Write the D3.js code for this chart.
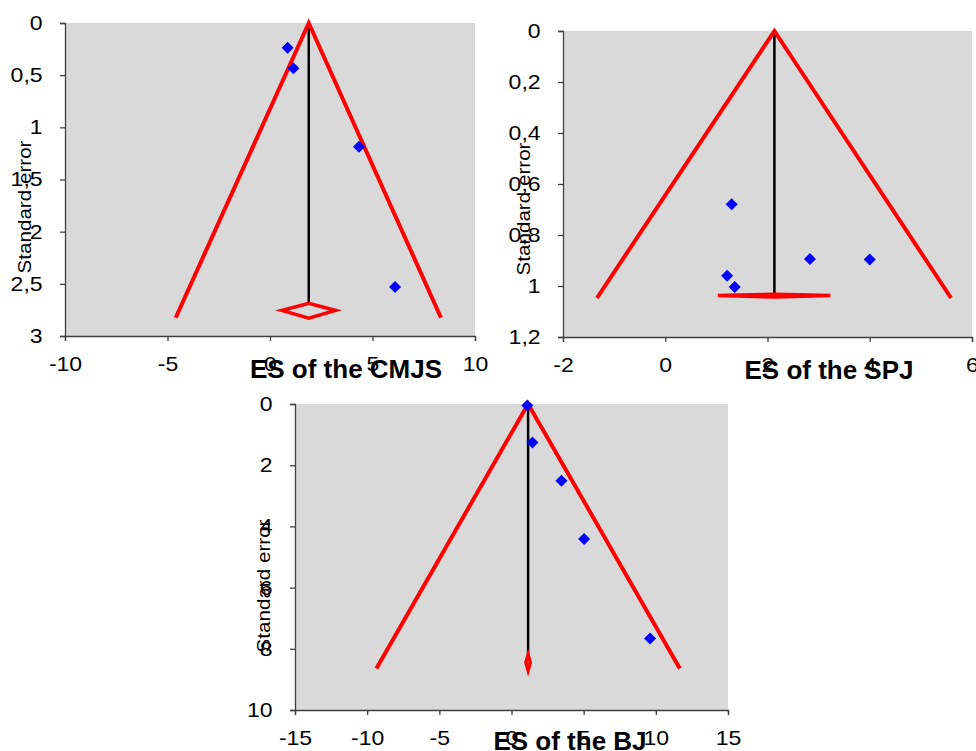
<!DOCTYPE html>
<html>
<head>
<meta charset="utf-8">
<script src="https://cdn.jsdelivr.net/npm/d3@7"></script>
<style>
  body { margin: 0; background: #fff; }
  svg text { font-family: "Liberation Sans", Arial, sans-serif; fill: #000; }
</style>
</head>
<body>
<svg id="chart" width="976" height="751"></svg>
<script>
// CMJS
var cmjsES = [0.86, 1.14, 4.34, 6.10];
var cmjsSE = [0.237, 0.434, 1.186, 2.53];
var cmjsFunnel = [[-4.6, 2.825], [1.89, 0], [8.34, 2.825]];
var cmjsMean = [[1.89, 0], [1.89, 2.687]];
var cmjsDiamond = [[0.57, 2.755], [1.89, 2.687], [3.2, 2.755], [1.89, 2.83]];
var cmjsXTicks = [-10, -5, 0, 5, 10];
var cmjsYTicks = [0, 0.5, 1, 1.5, 2, 2.5, 3];

// SPJ
var spjES = [1.30, 2.83, 4.0, 1.21, 1.36];
var spjSE = [0.679, 0.894, 0.896, 0.96, 1.004];
var spjFunnel = [[-1.335, 1.047], [2.135, 0], [5.59, 1.047]];
var spjMean = [[2.135, 0], [2.135, 1.03]];
var spjDiamond = [[1.03, 1.037], [2.135, 1.032], [3.23, 1.037], [2.135, 1.043]];
var spjXTicks = [-2, 0, 2, 4, 6];
var spjYTicks = [0, 0.2, 0.4, 0.6, 0.8, 1, 1.2];

// BJ
var bjES = [1.1, 1.45, 3.46, 5.03, 9.6];
var bjSE = [0.05, 1.26, 2.51, 4.41, 7.66];
var bjFunnel = [[-9.36, 8.64], [1.15, 0], [11.66, 8.64]];
var bjMean = [[1.15, 0], [1.15, 8.26]];
var bjDiamond = [[1.0, 8.45], [1.15, 8.2], [1.3, 8.45], [1.15, 8.7]];
var bjXTicks = [-15, -10, -5, 0, 5, 10, 15];
var bjYTicks = [0, 2, 4, 6, 8, 10];

var svg = d3.select("#chart");
// comma decimals, plain hyphen for negatives
var commaFmt = function (d) { return String(d).replace(".", ","); };

function drawFunnel(c) {
    var x = d3.scaleLinear().domain(c.xDomain).range([c.left, c.right]);
    var y = d3.scaleLinear().domain(c.yDomain).range([c.top, c.bottom]);
    var g = svg.append("g");

    g.append("rect")
        .attr("x", c.left).attr("y", c.top)
        .attr("width", c.right - c.left).attr("height", c.bottom - c.top)
        .attr("fill", "#d9d9d9");

    //axes
    var yAxis = g.append("g")
        .attr("transform", "translate(" + c.left + ",0)")
        .call(d3.axisLeft(y).tickValues(c.yTicks).tickFormat(commaFmt).tickSize(5).tickPadding(14.5));
    var xAxis = g.append("g")
        .attr("transform", "translate(0," + c.bottom + ")")
        .call(d3.axisBottom(x).tickValues(c.xTicks).tickFormat(commaFmt).tickSize(5).tickPadding(16));
    [yAxis, xAxis].forEach(function (a) {
        a.attr("font-size", null).attr("font-family", null);
        a.select(".domain").attr("stroke", "#404040").attr("stroke-width", 1.3);
        a.selectAll(".tick line").attr("stroke", "#404040").attr("stroke-width", 1.3);
        a.selectAll(".tick text")
            .style("font-size", "20px")
            .attr("transform", "scale(1.15,1)");
    });

    var line = d3.line().x(function (d) { return x(d[0]); }).y(function (d) { return y(d[1]); });

    g.append("path").datum(c.mean).attr("d", line)
        .attr("fill", "none").attr("stroke", "#000").attr("stroke-width", 2.5);
    g.append("path").datum(c.funnel).attr("d", line)
        .attr("fill", "none").attr("stroke", "#ff0000").attr("stroke-width", 4)
        .attr("stroke-linejoin", "miter");
    g.append("path").datum(c.diamond).attr("d", function (d) { return line(d) + "Z"; })
        .attr("fill", "none").attr("stroke", "#ff0000").attr("stroke-width", 3.5);

    var pts = c.es.map(function (e, i) { return [e, c.se[i]]; });
    g.selectAll(".pt").data(pts).enter().append("path")
        .attr("class", "pt")
        .attr("d", d3.symbol().type(d3.symbolSquare).size(72))
        .attr("transform", function (d) { return "translate(" + x(d[0]) + "," + y(d[1]) + ") rotate(45)"; })
        .attr("fill", "#0000ff");

    g.append("text")
        .attr("transform", "translate(" + c.yLabelX + "," + c.yLabelY + ") rotate(-90)")
        .attr("text-anchor", "middle")
        .style("font-size", "17.5px")
        .attr("textLength", 133).attr("lengthAdjust", "spacingAndGlyphs")
        .text("Standard error");

    g.append("text")
        .attr("x", c.titleX).attr("y", c.titleY)
        .attr("text-anchor", "middle")
        .style("font-size", "26px").style("font-weight", "bold")
        .text(c.title);
}

drawFunnel({
    es: cmjsES, se: cmjsSE, funnel: cmjsFunnel, mean: cmjsMean, diamond: cmjsDiamond,
    xTicks: cmjsXTicks, yTicks: cmjsYTicks, xDomain: [-10, 10], yDomain: [0, 3],
    left: 65, right: 475, top: 23, bottom: 336,
    yLabelX: 31, yLabelY: 207, title: "ES of the CMJS", titleX: 346, titleY: 378
});
drawFunnel({
    es: spjES, se: spjSE, funnel: spjFunnel, mean: spjMean, diamond: spjDiamond,
    xTicks: spjXTicks, yTicks: spjYTicks, xDomain: [-2, 6], yDomain: [0, 1.2],
    left: 563, right: 972, top: 31, bottom: 337,
    yLabelX: 530, yLabelY: 209, title: "ES of the SPJ", titleX: 829, titleY: 379
});
drawFunnel({
    es: bjES, se: bjSE, funnel: bjFunnel, mean: bjMean, diamond: bjDiamond,
    xTicks: bjXTicks, yTicks: bjYTicks, xDomain: [-15, 15], yDomain: [0, 10],
    left: 295, right: 728, top: 404, bottom: 710,
    yLabelX: 270, yLabelY: 586, title: "ES of the BJ", titleX: 570, titleY: 750
});
</script>
</body>
</html>
